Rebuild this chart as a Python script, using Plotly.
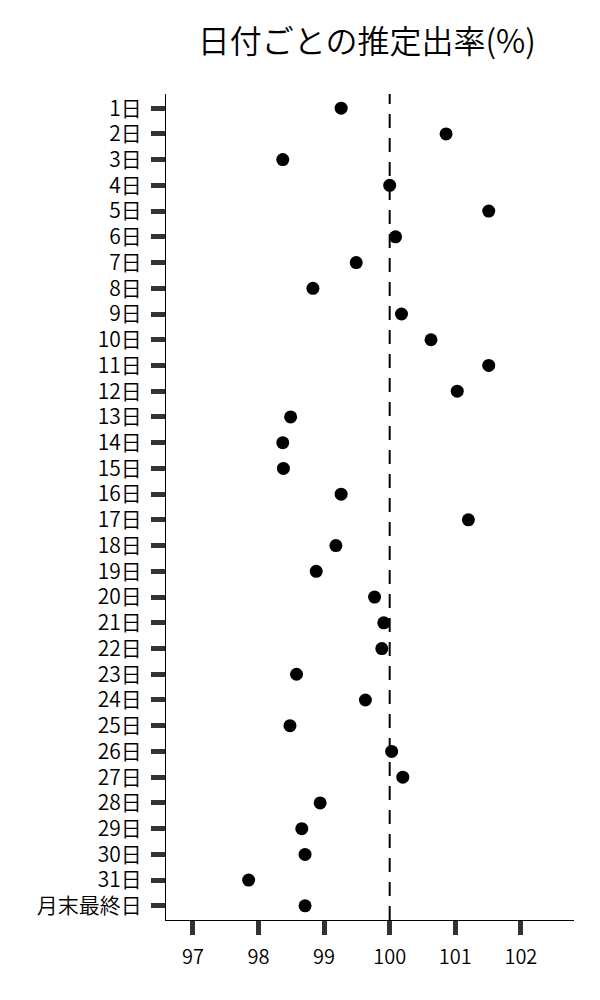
import plotly.graph_objects as go

# 日付ラベルと推定出率(%)
days = [f"{i}日" for i in range(1, 32)] + ["月末最終日"]
rates = [99.26, 100.86, 98.37, 100.0, 101.51, 100.09, 99.49, 98.83, 100.18, 100.63,
         101.51, 101.03, 98.49, 98.37, 98.38, 99.26, 101.2, 99.18, 98.88, 99.77,
         99.91, 99.88, 98.58, 99.63, 98.48, 100.03, 100.2, 98.94, 98.66, 98.71,
         97.85, 98.71]
ref_value = 100
x_ticks = [97, 98, 99, 100, 101, 102]

font_family = "Noto Sans CJK JP"

fig = go.Figure()
fig.add_trace(go.Scatter(
    x=rates, y=days, mode="markers",
    marker=dict(color="black", size=13),
    showlegend=False,
))

# 100% の基準線
fig.add_vline(x=ref_value, line=dict(color="black", width=2, dash="14px,10px"))

fig.update_layout(
    width=600, height=1000,
    margin=dict(l=158, r=34, t=86, b=88),
    plot_bgcolor="white", paper_bgcolor="white",
    font=dict(family=font_family, size=20, color="black", weight=350),
    title=dict(text="日付ごとの推定出率(%)", x=0.598, xanchor="center",
               y=0.966, yanchor="middle",
               font=dict(size=32, family=font_family, color="black", weight=350)),
    xaxis=dict(
        range=[96.59, 102.81], tickvals=x_ticks, showgrid=False, zeroline=False,
        showline=True, linecolor="black", linewidth=1,
        ticks="outside", ticklen=14, tickwidth=5, tickcolor="#333333",
        ticklabelstandoff=5,
    ),
    yaxis=dict(
        categoryorder="array", categoryarray=days, autorange=False,
        range=[len(days) - 0.45, -0.55],
        showgrid=False, zeroline=False,
        showline=True, linecolor="black", linewidth=1,
        ticks="outside", ticklen=14, tickwidth=5, tickcolor="#333333",
        tickfont=dict(size=21),
        ticklabelstandoff=5,
    ),
)

fig.write_html("out.html")
